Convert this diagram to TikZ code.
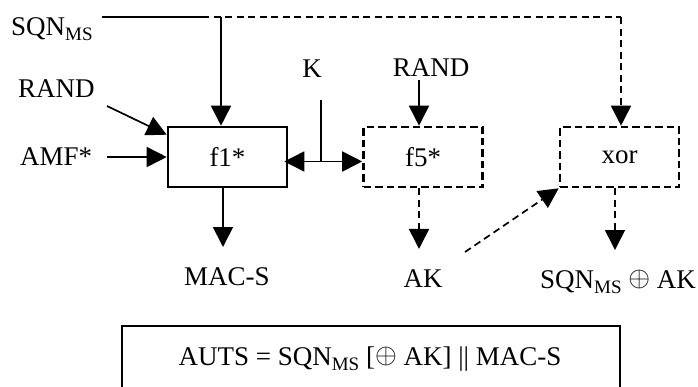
\documentclass[tikz,border=0pt]{standalone}
\usepackage{fontspec}
\usepackage{graphicx}
\setmainfont{Liberation Serif}
\usetikzlibrary{arrows.meta,calc}
\newcommand{\ssub}[1]{\raisebox{-5pt}{\fontsize{19}{19}\selectfont #1}}
\newcommand{\xo}{\raisebox{1.5pt}{\scalebox{2.8}{\fontsize{10}{12}\selectfont$\oplus$}}}
\begin{document}
\begin{tikzpicture}[x=1pt,y=-1pt,
  every node/.style={font=\fontsize{27}{32}\selectfont, inner sep=0pt},
  tip/.tip={Triangle[length=20pt,width=20pt]},
  ln/.style={line width=1.7pt},
  dln/.style={line width=1.7pt, dash pattern=on 7pt off 4.5pt},
  solidbox/.style={draw, line width=2.6pt, minimum width=119pt, minimum height=60pt},
  dashbox/.style={draw, line width=2.6pt, dash pattern=on 7.5pt off 4pt, minimum width=119pt, minimum height=60pt},
  lbl/.style={anchor=base}
]
\useasboundingbox (0,0) rectangle (698,386);

% boxes
\node[solidbox] (f1) at (227.5,157) {f1*};
\node[dashbox] (f5) at (423,157) {f5*};
\node[dashbox] (xor) at (619.5,157) {xor};
\draw[line width=2.6pt] (122,400) -- (122,326) -- (620,326) -- (620,400);
\node[lbl] (auts) at (370,365) {AUTS = SQN\ssub{MS} [\xo{} AK] || MAC-S};

% labels
\node[anchor=base west] (sqn) at (11,35) {SQN\ssub{MS}};
\node[anchor=base west] (rand1) at (18,97) {RAND};
\node[anchor=base west] (amf) at (20,165) {AMF*};
\node[lbl] (k) at (312,77) {K};
\node[lbl] (rand2) at (431,76) {RAND};
\node[lbl] (mac) at (227,285) {MAC-S};
\node[lbl] (ak) at (423,287) {AK};
\node[lbl] (sak) at (618,288) {SQN\ssub{MS} \xo{} AK};

% coordinates
\coordinate (s0) at (101.5,17);
\coordinate (s1) at (202,17);
\coordinate (j1) at (221,17);
\coordinate (c2) at (621,17);
\coordinate (r0) at (107,106);
\coordinate (a0) at (107,157);
\coordinate (k0) at (321,100);
\coordinate (k1) at (321,161.5);
\coordinate (rt) at (419,80);
\coordinate (d0) at (465,252);

% connectors
\draw[ln] (s0) -- (s1);
\draw[dln] (s1) -- (c2);
\draw[dln,-tip] (c2) -- (c2 |- xor.north);
\draw[ln,-tip] (j1) -- (j1 |- f1.north);
\draw[ln,-tip] (r0) -- ($(f1.north west)+(0,9)$);
\draw[ln,-tip] (a0) -- (f1.west);
\draw[ln] (k0) -- (k1);
\draw[ln,tip-tip] ($(f1.east |- k1)+(-4,0)$) -- (f5.west |- k1);
\draw[ln,-tip] (rt) -- (rt |- f5.north);
\draw[ln,-tip] (f1.south -| 223,0) -- (223,247);
\draw[dln,-tip] (f5.south -| rt) -- ($(rt |- ak.north)+(0,-20)$);
\draw[dln,-tip] (d0) -- (xor.south west);
\draw[dln,-tip] (xor.south -| 615,0) -- (615,250);
\end{tikzpicture}
\end{document}
